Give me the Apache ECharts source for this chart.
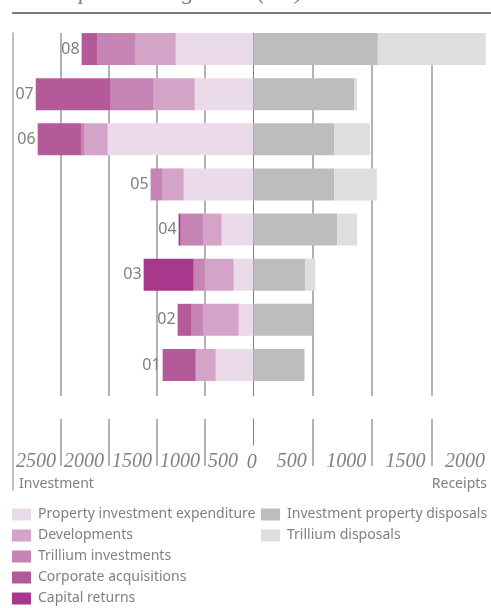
<!DOCTYPE html>
<html>
<head>
<meta charset="utf-8">
<script src="https://cdn.jsdelivr.net/npm/echarts@6/dist/echarts.min.js"></script>
<style>
  html, body { margin: 0; padding: 0; background: #ffffff; }
  #chart { width: 491px; height: 608px; }
</style>
</head>
<body>
<div id="chart"></div>
<script>
// Net capital management (£m): investment to the left, receipts to the right
const categories = ['01', '02', '03', '04', '05', '06', '07', '08'];

// Investment (£m)
const propertyInvestment   = [389, 149, 201, 326, 722, 1514, 607, 805];
const developments         = [198, 365, 302, 188, 219, 240, 427, 417];
const trilliumInvestments  = [10, 125, 115, 240, 115, 31, 448, 396];
const corporateAcquisitions = [344, 146, 0, 0, 10, 458, 781, 167];
const capitalReturns       = [0, 0, 521, 21, 0, 0, 0, 0];

// Receipts (£m)
const propertyDisposals = [431, 495, 439, 706, 681, 681, 848, 1048];
const trilliumDisposals = [0, 0, 83, 167, 358, 300, 25, 908];

// Axis ticks
const investmentTicks = [2500, 2000, 1500, 1000, 500, 0];
const receiptTicks = [0, 500, 1000, 1500, 2000];

const investmentSeries = [
  { name: 'Property investment expenditure', data: propertyInvestment, color: '#ebdbea' },
  { name: 'Developments', data: developments, color: '#d3a3c8' },
  { name: 'Trillium investments', data: trilliumInvestments, color: '#c584b3' },
  { name: 'Corporate acquisitions', data: corporateAcquisitions, color: '#b55a98' },
  { name: 'Capital returns', data: capitalReturns, color: '#a8388c' }
];
const receiptSeries = [
  { name: 'Investment property disposals', data: propertyDisposals, color: '#bdbdbd' },
  { name: 'Trillium disposals', data: trilliumDisposals, color: '#dedede' }
];

const GREY_TEXT = '#808080';
const GRID_LINE = '#b3b3b3';
const LEFT = 13, MID = 253.3, HALF = 240;
const invMax = investmentTicks[0];
const recMax = receiptTicks[receiptTicks.length - 1];
const STEP = 500;

const investmentTotals = categories.map((_, i) =>
  -investmentSeries.reduce((s, d) => s + d.data[i], 0));

const serifLabel = {
  fontFamily: 'Liberation Serif', fontStyle: 'italic', fontSize: 20, color: GREY_TEXT
};

const legendText = {
  color: GREY_TEXT, fontFamily: 'Noto Sans', fontSize: 14, lineHeight: 15,
  padding: [0, 0, 0, 2]
};

const hiddenCat = (gridIndex) => ({
  type: 'category', gridIndex, data: categories,
  axisLine: { show: false }, axisTick: { show: false }, axisLabel: { show: false }
});
const hiddenVal = (gridIndex, extra) => Object.assign({
  type: 'value', gridIndex, min: 0, max: 1,
  axisLine: { show: false }, axisTick: { show: false }, axisLabel: { show: false },
  splitLine: { show: false }
}, extra || {});

const option = {
  animation: false,
  title: {
    text: 'Net capital management (£m)',
    left: 12, top: -24,
    textStyle: {
      fontFamily: 'Liberation Serif', fontStyle: 'italic', fontWeight: 'normal',
      fontSize: 24, color: GREY_TEXT
    }
  },
  graphic: [
    { type: 'line', shape: { x1: 12, y1: 13, x2: 491, y2: 13 },
      style: { stroke: '#7a7a7a', lineWidth: 2 }, silent: true },
    { type: 'text', left: 19, top: 477,
      style: { text: 'Investment', fill: GREY_TEXT, font: '14px "Noto Sans"' } },
    { type: 'text', right: 4, top: 477,
      style: { text: 'Receipts', fill: GREY_TEXT, font: '14px "Noto Sans"' } }
  ],
  legend: [
    {
      orient: 'vertical', left: 12, top: 507, height: 101, padding: 0,
      itemWidth: 19, itemHeight: 12, itemGap: 6,
      icon: 'rect', data: investmentSeries.map(s => s.name), textStyle: legendText
    },
    {
      orient: 'vertical', left: 261, top: 507, height: 101, padding: 0,
      itemWidth: 19, itemHeight: 12, itemGap: 6,
      icon: 'rect', data: receiptSeries.map(s => s.name), textStyle: legendText
    }
  ],
  grid: [
    { left: LEFT, top: 26.5, width: HALF, height: 361 },      // 0 investment bars
    { left: MID, top: 26.5, width: HALF, height: 361 },       // 1 receipt bars
    { left: LEFT, top: 33, width: HALF, height: 363 },        // 2 investment grid lines
    { left: MID, top: 33, width: HALF, height: 363 },         // 3 receipt grid lines
    { left: LEFT, top: 419, width: HALF, height: 47 },        // 4 investment tick labels
    { left: MID, top: 419, width: HALF, height: 47 },         // 5 receipt tick labels
    { left: MID, top: 419, width: HALF, height: 26 },         // 6 zero tick
    { left: LEFT, top: 33, width: HALF, height: 457 }         // 7 left axis line
  ],
  xAxis: [
    { type: 'value', gridIndex: 0, min: -invMax, max: 0, interval: STEP, show: false },
    { type: 'value', gridIndex: 1, min: 0, max: recMax, interval: STEP, show: false },
    { type: 'value', gridIndex: 2, min: -invMax, max: 0, interval: STEP,
      axisLine: { show: false }, axisTick: { show: false }, axisLabel: { show: false },
      splitLine: { show: true, showMinLine: false, showMaxLine: false,
        lineStyle: { color: GRID_LINE, width: 2 } } },
    { type: 'value', gridIndex: 3, min: 0, max: recMax, interval: STEP,
      axisLine: { show: false }, axisTick: { show: false }, axisLabel: { show: false },
      splitLine: { show: true, showMinLine: false, showMaxLine: false,
        lineStyle: { color: GRID_LINE, width: 2 } } },
    { type: 'value', gridIndex: 4, min: -invMax, max: 0, interval: STEP,
      axisLine: { show: false }, axisTick: { show: false },
      axisLabel: Object.assign({
        inside: true, margin: -6, align: 'left', padding: [0, 0, 0, 3],
        showMinLabel: true,
        formatter: v => (v === 0 ? '' : String(Math.abs(v)))
      }, serifLabel),
      splitLine: { show: true, showMinLine: false, showMaxLine: false,
        lineStyle: { color: GRID_LINE, width: 2 } } },
    { type: 'value', gridIndex: 5, min: 0, max: recMax, interval: STEP,
      axisLine: { show: false }, axisTick: { show: false },
      axisLabel: Object.assign({
        inside: true, margin: -6, align: 'right', padding: [0, 6, 0, 0],
        showMaxLabel: true,
        formatter: v => (v === 0 ? '' : String(v))
      }, serifLabel),
      splitLine: { show: true, showMinLine: false, showMaxLine: false,
        lineStyle: { color: GRID_LINE, width: 2 } } },
    { type: 'value', gridIndex: 6, min: 0, max: recMax, interval: STEP,
      axisLine: { show: false }, axisTick: { show: false },
      axisLabel: Object.assign({
        margin: 8, align: 'center', padding: [0, 3, 0, 0],
        formatter: v => (v === 0 ? '0' : '')
      }, serifLabel),
      splitLine: { show: false } },
    { type: 'value', gridIndex: 7, min: 0, max: 1, show: false }
  ],
  yAxis: [
    hiddenCat(0),
    hiddenCat(1),
    hiddenVal(2),
    hiddenVal(3, { axisLine: { show: true, lineStyle: { color: '#7f7f7f', width: 1 } } }),
    hiddenVal(4),
    hiddenVal(5),
    hiddenVal(6, { axisLine: { show: true, lineStyle: { color: '#7f7f7f', width: 1 } } }),
    hiddenVal(7, { axisLine: { show: true, lineStyle: { color: '#a9a9a9', width: 1.5 } } })
  ],
  series: [
    ...investmentSeries.map(s => ({
      type: 'bar', name: s.name, xAxisIndex: 0, yAxisIndex: 0, stack: 'investment',
      barWidth: 32, barGap: '-100%',
      itemStyle: { color: s.color },
      data: s.data.map(v => -v)
    })),
    {
      type: 'bar', name: 'total', xAxisIndex: 0, yAxisIndex: 0,
      barWidth: 32, barGap: '-100%', silent: true, z: 1,
      itemStyle: { color: 'rgba(0,0,0,0)' },
      label: {
        show: true, position: 'left', distance: 2,
        color: GREY_TEXT, fontFamily: 'Noto Sans', fontSize: 16,
        formatter: p => categories[p.dataIndex]
      },
      data: investmentTotals
    },
    ...receiptSeries.map(s => ({
      type: 'bar', name: s.name, xAxisIndex: 1, yAxisIndex: 1, stack: 'receipts',
      barWidth: 32, itemStyle: { color: s.color },
      data: s.data
    }))
  ]
};

const chart = echarts.init(document.getElementById('chart'), null, { renderer: 'canvas' });
chart.setOption(option);
</script>
</body>
</html>
